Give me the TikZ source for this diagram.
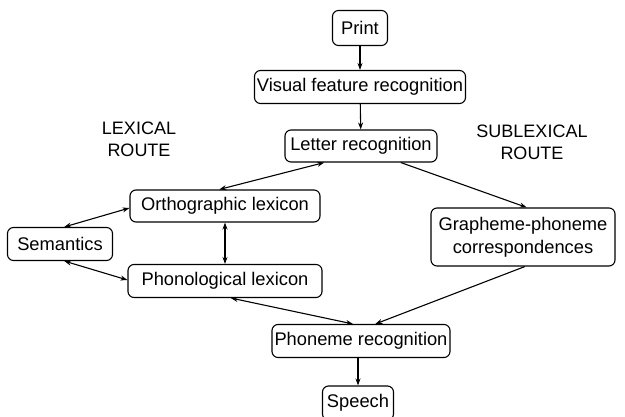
\documentclass[tikz,border=0pt]{standalone}
\usepackage{fontspec}
\setmainfont{Liberation Sans}
\usetikzlibrary{arrows.meta,calc}
\begin{document}
\begin{tikzpicture}[x=1pt,y=-1pt,
  box/.style={draw,rounded corners=6pt,line width=1.1pt,inner sep=0pt,align=center,font=\fontsize{18.3}{23}\selectfont},
  conn/.style={line width=1.1pt,-{Stealth[length=7pt,width=5pt]}},
  biconn/.style={line width=1.1pt,{Stealth[length=7pt,width=5pt]}-{Stealth[length=7pt,width=5pt]}},
  lbl/.style={align=center,font=\fontsize{18}{22}\selectfont}]
\useasboundingbox[fill=white] (0,0) rectangle (625,417);
\node[box,minimum width=55pt,minimum height=35pt] (print) at (360,28) {Print};
\node[box,minimum width=211pt,minimum height=33pt] (visual) at (360,87) {Visual feature recognition};
\node[box,minimum width=152pt,minimum height=32pt] (letter) at (361,146) {Letter recognition};
\node[box,minimum width=190pt,minimum height=32pt] (ortho) at (225,206) {Orthographic lexicon};
\node[box,minimum width=105pt,minimum height=33pt] (sem) at (60,244) {Semantics};
\node[box,minimum width=194pt,minimum height=33pt] (phono) at (225,281) {Phonological lexicon};
\node[box,minimum width=184pt,minimum height=58pt] (graph) at (523,237) {Grapheme-phoneme\\correspondences};
\node[box,minimum width=178pt,minimum height=33pt] (phoneme) at (361,341) {Phoneme recognition};
\node[box,minimum width=71pt,minimum height=34pt] (speech) at (358,403) {Speech};
\node[lbl] (lex) at (139,139) {LEXICAL\\ROUTE};
\node[lbl] (sublex) at (532,142) {SUBLEXICAL\\ROUTE};
\draw[conn] (print) -- (visual);
\draw[conn] (visual) -- (letter);
\draw[biconn] ($(ortho.north west)!0.47!(ortho.north east)$) -- ($(letter.south west)!0.26!(letter.south east)$);
\draw[conn] ($(letter.south west)!0.76!(letter.south east)$) -- ($(graph.north west)!0.52!(graph.north east)$);
\draw[biconn] ($(sem.north west)!0.54!(sem.north east)$) -- ($(ortho.west)+(0,2)$);
\draw[biconn] ($(sem.south west)!0.54!(sem.south east)$) -- ($(phono.west)+(0,-1)$);
\draw[biconn] (ortho) -- (phono);
\draw[biconn] ($(phono.south west)!0.53!(phono.south east)$) -- ($(phoneme.north west)!0.455!(phoneme.north east)$);
\draw[conn] ($(graph.south west)!0.51!(graph.south east)$) -- ($(phoneme.north west)!0.58!(phoneme.north east)$);
\draw[conn] (phoneme.south -| speech) -- (speech);
\end{tikzpicture}
\end{document}
